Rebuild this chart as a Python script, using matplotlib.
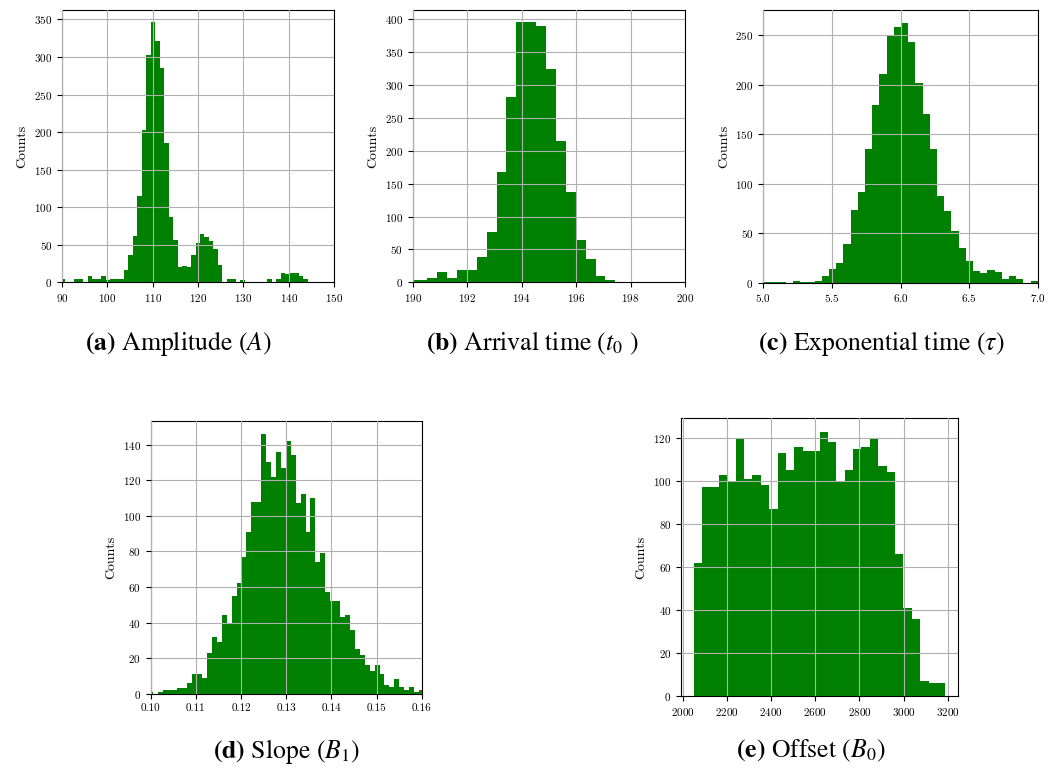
import matplotlib
matplotlib.use("Agg")
import matplotlib.pyplot as plt
import numpy as np

plt.rcParams['font.family'] = 'cmr10'
plt.rcParams['axes.formatter.use_mathtext'] = True
plt.rcParams['mathtext.fontset'] = 'stix'
plt.rcParams['axes.unicode_minus'] = False

# (a) amplitude histogram
amp_lo, amp_bin = 89.75, 0.99
amp_counts = [5, 1, 1, 5, 5, 1, 8, 5, 4, 9, 3, 5, 4, 4, 17, 37, 61, 115, 203, 303,
              346, 322, 285, 186, 87, 56, 21, 22, 20, 36, 52, 64, 60, 55, 45, 23, 1, 5, 5, 0,
              3, 1, 1, 1, 1, 1, 5, 1, 4, 12, 11, 13, 13, 8, 5, 1, 0, 1, 0, 0, 0]

# (b) arrival time histogram
t0_lo, t0_bin = 189.81, 0.3634
t0_counts = [3, 3, 6, 15, 6, 18, 18, 39, 76, 168, 282, 395, 395, 389, 325, 215, 137,
             64, 35, 9, 3]

# (c) exponential time histogram
tau_lo, tau_bin = 4.954, 0.0525
tau_counts = [1, 1, 1, 1, 0, 2, 1, 1, 2, 7, 14, 20, 39, 73, 92, 135, 180, 211, 249, 258,
              263, 243, 202, 171, 135, 88, 72, 52, 35, 22, 12, 10, 13, 11, 4, 7, 4, 0, 2]

# (d) slope histogram
b1_lo, b1_bin = 0.09935, 0.0010917
b1_counts = [1, 0, 1, 2, 2, 2, 3, 3, 6, 11, 11, 9, 23, 32, 29, 44, 39, 55, 62, 77,
             91, 108, 108, 146, 130, 122, 136, 127, 142, 134, 107, 112, 91, 110, 74, 79, 57, 52, 52, 43,
             44, 36, 25, 22, 16, 13, 16, 11, 5, 4, 8, 4, 2, 4, 1, 2]

# (e) offset histogram
b0_lo, b0_bin = 2049, 38.0
b0_counts = [62, 97, 97, 103, 100, 120, 101, 103, 98, 87, 113, 105, 116, 114, 114, 123,
             118, 100, 105, 115, 116, 120, 107, 104, 66, 41, 36, 7, 6, 6]

captions = [r"$\mathbf{(a)}$ Amplitude ($A$)",
            r"$\mathbf{(b)}$ Arrival time ($t_0$ )",
            r"$\mathbf{(c)}$ Exponential time ($\tau$)",
            r"$\mathbf{(d)}$ Slope ($B_1$)",
            r"$\mathbf{(e)}$ Offset ($B_0$)"]

W, H = 1059, 773
fig = plt.figure(figsize=(W / 100, H / 100), dpi=100)


def px_axes(x0, x1, y0, y1):
    return fig.add_axes([x0 / W, 1 - y1 / H, (x1 - x0) / W, (y1 - y0) / H])


def draw_hist(ax, lo, width, counts, xlim=None):
    edges = lo + width * np.arange(len(counts) + 1)
    ax.bar(edges[:-1], counts, width=width, align='edge', color='green', linewidth=0)
    if xlim is not None:
        ax.set_xlim(xlim)
    ax.grid(True, color='#b0b0b0', linewidth=0.8)
    ax.set_axisbelow(False)
    ax.set_ylabel("Counts", fontsize=10)
    ax.tick_params(labelsize=8)


ax_a = px_axes(62, 334, 9.5, 282.3)
draw_hist(ax_a, amp_lo, amp_bin, amp_counts, (90, 150))

ax_b = px_axes(412.7, 685, 9.5, 282.3)
draw_hist(ax_b, t0_lo, t0_bin, t0_counts, (190, 200))

ax_c = px_axes(763.3, 1037.7, 9.5, 282.7)
draw_hist(ax_c, tau_lo, tau_bin, tau_counts, (5.0, 7.0))
ax_c.set_xticks([5.0, 5.5, 6.0, 6.5, 7.0])

ax_d = px_axes(150.7, 421.7, 421, 693.7)
draw_hist(ax_d, b1_lo, b1_bin, b1_counts, (0.10, 0.16))
ax_d.set_xticks([0.10, 0.11, 0.12, 0.13, 0.14, 0.15, 0.16])
ax_d.xaxis.set_major_formatter(matplotlib.ticker.FormatStrFormatter('%.2f'))

ax_e = px_axes(681, 958, 418.3, 696)
draw_hist(ax_e, b0_lo, b0_bin, b0_counts)
ax_e.set_xticks(np.arange(2000, 3201, 200))

cap_pos = [(178, 343), (532, 343), (881, 343), (286, 751), (811, 751)]
for (cx, cy), cap in zip(cap_pos, captions):
    fig.text(cx / W, 1 - cy / H, cap, ha='center', va='center', fontsize=18.5,
             family='STIXGeneral')

fig.savefig("out.png", dpi=100)
